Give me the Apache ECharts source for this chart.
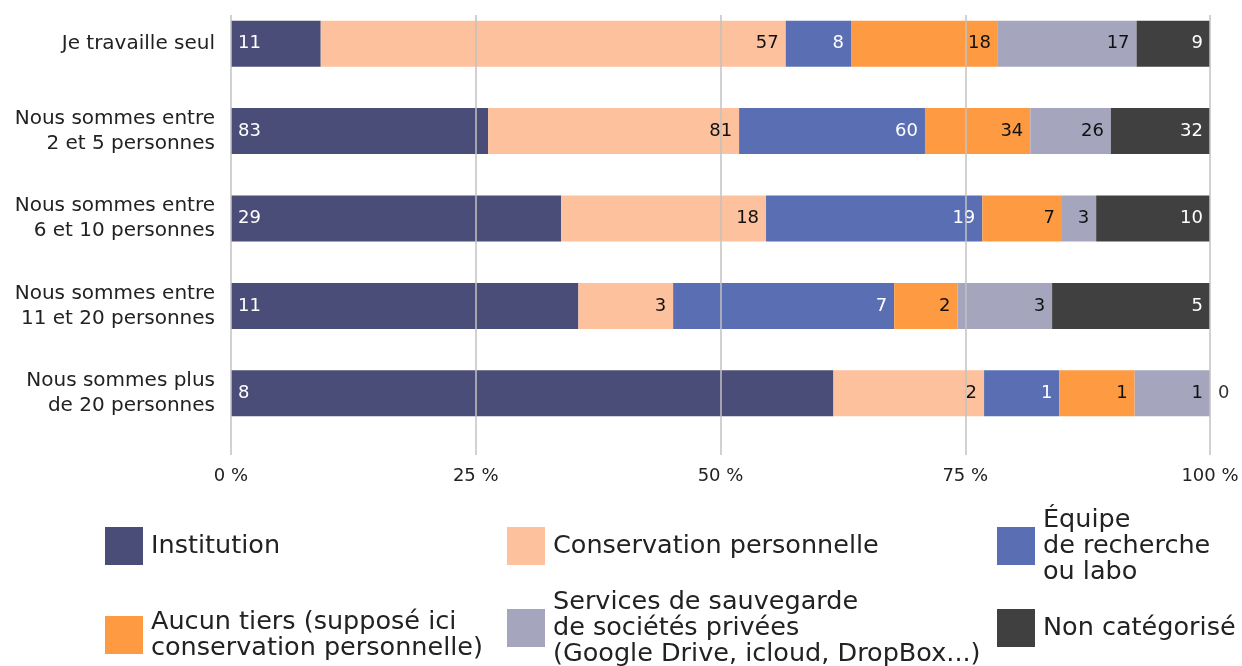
<!DOCTYPE html>
<html>
<head>
<meta charset="utf-8">
<script src="https://cdn.jsdelivr.net/npm/echarts@6/dist/echarts.min.js"></script>
<style>
  html, body { margin: 0; padding: 0; background: #fff; }
  #chart { width: 1242px; height: 666px; }
</style>
</head>
<body>
<div id="chart"></div>
<script>
// Team-size groups (top to bottom)
const categories = [
  'Je travaille seul',
  'Nous sommes entre\n2 et 5 personnes',
  'Nous sommes entre\n6 et 10 personnes',
  'Nous sommes entre\n11 et 20 personnes',
  'Nous sommes plus\nde 20 personnes'
];

// Respondent counts per storage type, one value per group
const institution   = [11, 83, 29, 11, 8];
const conservation  = [57, 81, 18, 3, 2];
const equipe        = [8, 60, 19, 7, 1];
const aucunTiers    = [18, 34, 7, 2, 1];
const services      = [17, 26, 3, 3, 1];
const nonCategorise = [9, 32, 10, 5, 0];

// Percentage axis ticks
const tickValues = [0, 25, 50, 75, 100];

const seriesNames = [
  'Institution',
  'Conservation personnelle',
  'Équipe de recherche ou labo',
  'Aucun tiers (supposé ici conservation personnelle)',
  'Services de sauvegarde de sociétés privées (Google Drive, icloud, DropBox...)',
  'Non catégorisé'
];
const legendText = {
  'Institution': 'Institution',
  'Conservation personnelle': 'Conservation personnelle',
  'Équipe de recherche ou labo': 'Équipe\nde recherche\nou labo',
  'Aucun tiers (supposé ici conservation personnelle)': 'Aucun tiers (supposé ici\nconservation personnelle)',
  'Services de sauvegarde de sociétés privées (Google Drive, icloud, DropBox...)': 'Services de sauvegarde\nde sociétés privées\n(Google Drive, icloud, DropBox...)',
  'Non catégorisé': 'Non catégorisé'
};
const colors = ['#4b4d79', '#fdc19d', '#5a6fb3', '#fd9a42', '#a5a6be', '#404040'];
const labelColors = ['#ffffff', '#111111', '#ffffff', '#111111', '#111111', '#ffffff'];

const counts = [institution, conservation, equipe, aucunTiers, services, nonCategorise];
const totals = categories.map((_, i) => counts.reduce((s, arr) => s + arr[i], 0));

const FONT = 'DejaVu Sans';

const series = counts.map((arr, si) => ({
  name: seriesNames[si],
  type: 'bar',
  stack: 'total',
  xAxisIndex: 0,
  yAxisIndex: 0,
  barWidth: 46,
  itemStyle: { color: colors[si] },
  label: {
    show: true,
    position: si === 0 ? 'insideLeft' : 'insideRight',
    distance: 7,
    color: labelColors[si],
    fontFamily: FONT,
    fontSize: 18,
    formatter: p => String(arr[p.dataIndex])
  },
  data: arr.map((v, i) => {
    const item = { value: v / totals[i] * 100 };
    if (v === 0) {
      item.label = { position: 'right', color: '#333333', distance: 8 };
    }
    return item;
  })
}));

// One legend block per entry, 3 columns x 2 rows; each item centred on its row
const LINE_H = 26;
const legendCols = [105, 507, 997];
const legendRowCenter = [[546, 546, 546], [635, 628, 628]];
const legends = seriesNames.map((n, i) => {
  const row = Math.floor(i / 3), col = i % 3;
  const lines = legendText[n].split('\n').length;
  const h = Math.max(38, lines * LINE_H);
  return {
    data: [n],
    left: legendCols[col],
    top: legendRowCenter[row][col] - h / 2,
    orient: 'vertical',
    itemWidth: 38,
    itemHeight: 38,
    icon: 'rect',
    selectedMode: false,
    padding: 0,
    formatter: name => legendText[name],
    textStyle: {
      fontFamily: FONT,
      fontSize: 25.5,
      lineHeight: LINE_H,
      color: '#222222',
      padding: [0, 0, 0, 3]
    }
  };
});

const chart = echarts.init(document.getElementById('chart'), null, { renderer: 'canvas' });
chart.setOption({
  animation: false,
  textStyle: { fontFamily: FONT },
  grid: [
    { left: 231, right: 32, top: 0, height: 437 },
    { left: 231, right: 32, top: 15, height: 440 }
  ],
  xAxis: [
    { gridIndex: 0, type: 'value', min: 0, max: 100, show: false },
    {
      gridIndex: 1, type: 'value', min: 0, max: 100, interval: 25, z: 10,
      axisLine: { show: false },
      axisTick: { show: false },
      splitLine: { show: true, lineStyle: { color: '#c2c2c2', width: 1.5 } },
      axisLabel: {
        margin: 12,
        fontFamily: FONT,
        fontSize: 18,
        color: '#222222',
        formatter: v => tickValues.includes(v) ? v + ' %' : ''
      }
    }
  ],
  yAxis: [
    {
      gridIndex: 0, type: 'category', data: categories, inverse: true,
      axisLine: { show: false },
      axisTick: { show: false },
      splitLine: { show: false },
      axisLabel: {
        margin: 16,
        fontFamily: FONT,
        fontSize: 20,
        lineHeight: 25,
        color: '#222222',
        align: 'right'
      }
    },
    {
      gridIndex: 1, type: 'value', min: 0, max: 1, show: false
    }
  ],
  legend: legends,
  series: series
});
</script>
</body>
</html>
